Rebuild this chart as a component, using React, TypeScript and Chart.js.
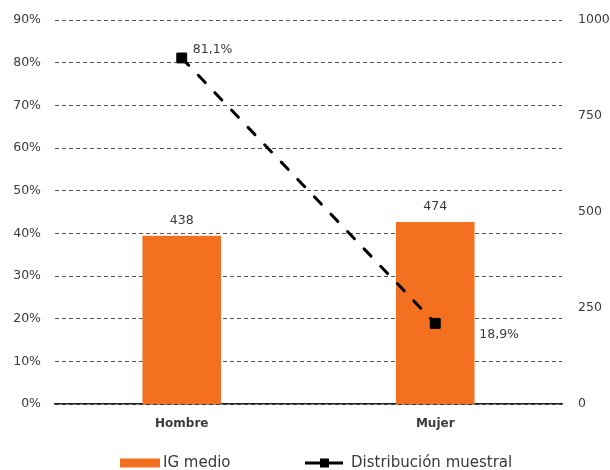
import React, { useEffect, useRef } from "react";
import { Chart, registerables } from "chart.js";

Chart.register(...registerables);

const categories = ["Hombre", "Mujer"];
const igMedio = [438, 474];
const distribucion = [81.1, 18.9];
const pctTicks = [0, 10, 20, 30, 40, 50, 60, 70, 80, 90];
const igTicks = [0, 250, 500, 750, 1000];

const ORANGE = "#F37021";
const TEXT = "#3a3a3a";
const FONT = "'DejaVu Sans', Verdana, sans-serif";

const fmtPct = (v: number) => v.toFixed(1).replace(".", ",") + "%";

// Value labels above bars and next to line points
const valueLabels = {
  id: "valueLabels",
  afterDatasetsDraw(chart: any) {
    const { ctx } = chart;
    ctx.save();
    ctx.fillStyle = TEXT;
    ctx.font = `12.5px ${FONT}`;
    ctx.textBaseline = "middle";
    const barMeta = chart.getDatasetMeta(0);
    barMeta.data.forEach((el: any, i: number) => {
      ctx.textAlign = "center";
      ctx.fillText(String(chart.data.datasets[0].data[i]), el.x, el.y - 15);
    });
    const lineMeta = chart.getDatasetMeta(1);
    const offsets = [
      [11, -8],
      [44, 11],
    ];
    lineMeta.data.forEach((el: any, i: number) => {
      ctx.textAlign = "left";
      ctx.fillText(
        fmtPct(chart.data.datasets[1].data[i]),
        el.x + offsets[i][0],
        el.y + offsets[i][1]
      );
    });
    ctx.restore();
  },
};

// Legend drawn beneath the axis: bar swatch and dashed-line marker
const bottomLegend = {
  id: "bottomLegend",
  afterDraw(chart: any) {
    const { ctx } = chart;
    const ds = chart.data.datasets;
    const y = chart.height - 7;
    const x0 = chart.width / 2 - 185;
    ctx.save();
    ctx.font = `15px ${FONT}`;
    ctx.textBaseline = "middle";
    ctx.textAlign = "left";
    // bar item
    ctx.fillStyle = ORANGE;
    ctx.fillRect(x0, y - 4.5, 40, 9);
    ctx.fillStyle = TEXT;
    ctx.fillText(ds[0].label, x0 + 43, y);
    // line item
    const lx = x0 + 185;
    ctx.strokeStyle = "#000";
    ctx.lineWidth = 3;
    ctx.beginPath();
    ctx.moveTo(lx, y);
    ctx.lineTo(lx + 38, y);
    ctx.stroke();
    ctx.fillStyle = "#000";
    ctx.fillRect(lx + 15, y - 4.5, 9, 9);
    ctx.fillStyle = TEXT;
    ctx.fillText(ds[1].label, lx + 46, y);
    ctx.restore();
  },
};

// Fixed axis widths; drop the label overhang so the plot area starts at the layout padding
const fixWidth = (w: number) => (scale: any) => {
  scale.width = w;
  scale.paddingTop = 0;
  scale.paddingBottom = 0;
};

export default function App() {
  const ref = useRef<HTMLCanvasElement>(null);

  useEffect(() => {
    if (!ref.current) return;
    const chart = new Chart(ref.current, {
      type: "bar",
      data: {
        labels: categories,
        datasets: [
          {
            type: "bar",
            label: "IG medio",
            data: igMedio,
            backgroundColor: ORANGE,
            yAxisID: "y1",
            barPercentage: 0.31,
            categoryPercentage: 1,
            order: 2,
          },
          {
            type: "line",
            label: "Distribución muestral",
            data: distribucion,
            yAxisID: "y",
            borderColor: "#000",
            borderWidth: 3,
            borderDash: [10, 14],
            borderCapStyle: "round",
            pointStyle: "rect",
            pointRadius: 7,
            pointBorderWidth: 1,
            pointBackgroundColor: "#000",
            pointBorderColor: "#000",
            fill: false,
            order: 1,
          } as any,
        ],
      },
      options: {
        responsive: false,
        animation: false,
        layout: { padding: { top: 20, left: 0, right: 0, bottom: 0 } },
        plugins: {
          legend: { display: false },
          tooltip: { enabled: false },
        },
        scales: {
          x: {
            grid: { display: false },
            border: { display: true, color: "#222", width: 1.5 },
            ticks: {
              color: TEXT,
              font: { family: FONT, size: 12, weight: "bold" },
              padding: 5,
            },
            afterFit(scale: any) {
              scale.height = 66;
            },
          },
          y: {
            position: "left",
            min: 0,
            max: 90,
            afterBuildTicks(scale: any) {
              scale.ticks = pctTicks.map((v) => ({ value: v }));
            },
            grid: {
              color: "#555",
              lineWidth: 1,
              drawTicks: false,
            },
            border: { display: false, dash: [4, 3] },
            ticks: {
              color: TEXT,
              font: { family: FONT, size: 12.5 },
              padding: 14,
              callback: (v: any) => v + "%",
            },
            afterFit: fixWidth(55),
          },
          y1: {
            position: "right",
            min: 0,
            max: 1000,
            afterBuildTicks(scale: any) {
              scale.ticks = igTicks.map((v) => ({ value: v }));
            },
            grid: { display: false, drawTicks: false },
            border: { display: false },
            ticks: {
              color: TEXT,
              font: { family: FONT, size: 12.5 },
              padding: 16,
              callback: (v: any) => String(v),
            },
            afterFit: fixWidth(48),
          },
        },
      } as any,
      plugins: [valueLabels, bottomLegend],
    });
    return () => chart.destroy();
  }, []);

  return (
    <div style={{ position: "absolute", left: 0, top: 0, width: 610, height: 470, background: "#fff" }}>
      <canvas ref={ref} width={610} height={470} />
    </div>
  );
}
